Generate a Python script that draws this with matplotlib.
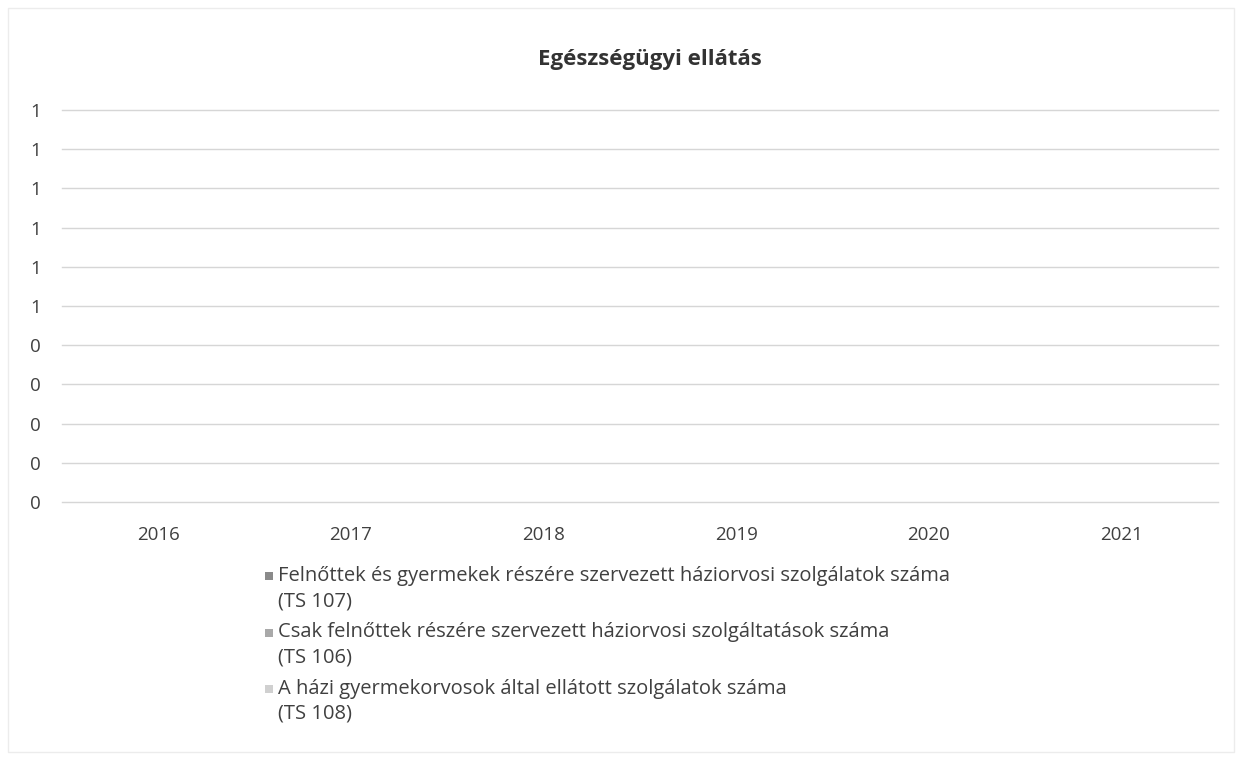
import math
import numpy as np
import matplotlib
matplotlib.use("Agg")
import matplotlib.pyplot as plt
from matplotlib.ticker import FuncFormatter, FixedLocator
from matplotlib.patches import Rectangle

plt.rcParams['font.family'] = ['Open Sans', 'DejaVu Sans']

title = "Egészségügyi ellátás"
years = ["2016", "2017", "2018", "2019", "2020", "2021"]
series_names = [
    "Felnőttek és gyermekek részére szervezett háziorvosi szolgálatok száma\n(TS 107)",
    "Csak felnőttek részére szervezett háziorvosi szolgáltatások száma\n(TS 106)",
    "A házi gyermekorvosok által ellátott szolgálatok száma\n(TS 108)",
]
ts107 = [0, 0, 0, 0, 0, 0]
ts106 = [0, 0, 0, 0, 0, 0]
ts108 = [0, 0, 0, 0, 0, 0]
series_values = [ts107, ts106, ts108]
colors = ['#8a8a8a', '#a9a9a9', '#d0d0d0']

W, H = 1242, 760
fig = plt.figure(figsize=(W/100, H/100), dpi=100)
ax = fig.add_axes([62/W, 1-502/H, (1218-62)/W, (502-110)/H])

x = np.arange(len(years))
w = 0.22
for i, (vals, c) in enumerate(zip(series_values, colors)):
    ax.bar(x + (i-1)*w, vals, width=w, color=c, label=series_names[i])

ax.set_xlim(-0.5, len(years)-0.5)
ax.set_ylim(0, 1)
ax.yaxis.set_major_locator(FixedLocator(np.linspace(0, 1, 11)))
ax.yaxis.set_major_formatter(FuncFormatter(lambda v, p: str(int(math.floor(v + 0.5 + 1e-9)))))
ax.set_xticks(x)
ax.set_xticklabels(years)
ax.tick_params(axis='both', length=0, labelsize=13.5, colors='#404040')
ax.tick_params(axis='x', pad=17)
ax.tick_params(axis='y', pad=23)
for lab in ax.get_yticklabels():
    lab.set_horizontalalignment('left')
ax.grid(axis='y', color='#d6d6d6', linewidth=1)
for gl in ax.get_ygridlines():
    gl.set_clip_on(False)
ax.set_axisbelow(True)
for s in ax.spines.values():
    s.set_visible(False)

fig.text(650/W, 1-60/H, title, ha='center', va='center', fontsize=16,
         fontweight='bold', color='#333333')

# legend: marker aligned with the first line of each (wrapped) entry
leg_x_marker, leg_x_text = 265, 278
leg_y0, entry_step, line_step = 576, 56.5, 25
msize = 8
for i, (name, c) in enumerate(zip(series_names, colors)):
    ytop = leg_y0 + i*entry_step
    fig.patches.append(Rectangle((leg_x_marker/W, 1-(ytop+msize/2)/H), msize/W, msize/H,
                                 transform=fig.transFigure, facecolor=c, edgecolor='none'))
    for j, line in enumerate(name.split("\n")):
        fig.text(leg_x_text/W, 1-(ytop + j*line_step)/H, line, ha='left', va='center',
                 fontsize=14.5, color='#404040')

fig.patches.append(Rectangle((8/W, 8/H), 1-16/W, 1-16/H,
                             transform=fig.transFigure, fill=False,
                             edgecolor='#ececec', linewidth=1))

fig.savefig("out.png", dpi=100, facecolor='white')
